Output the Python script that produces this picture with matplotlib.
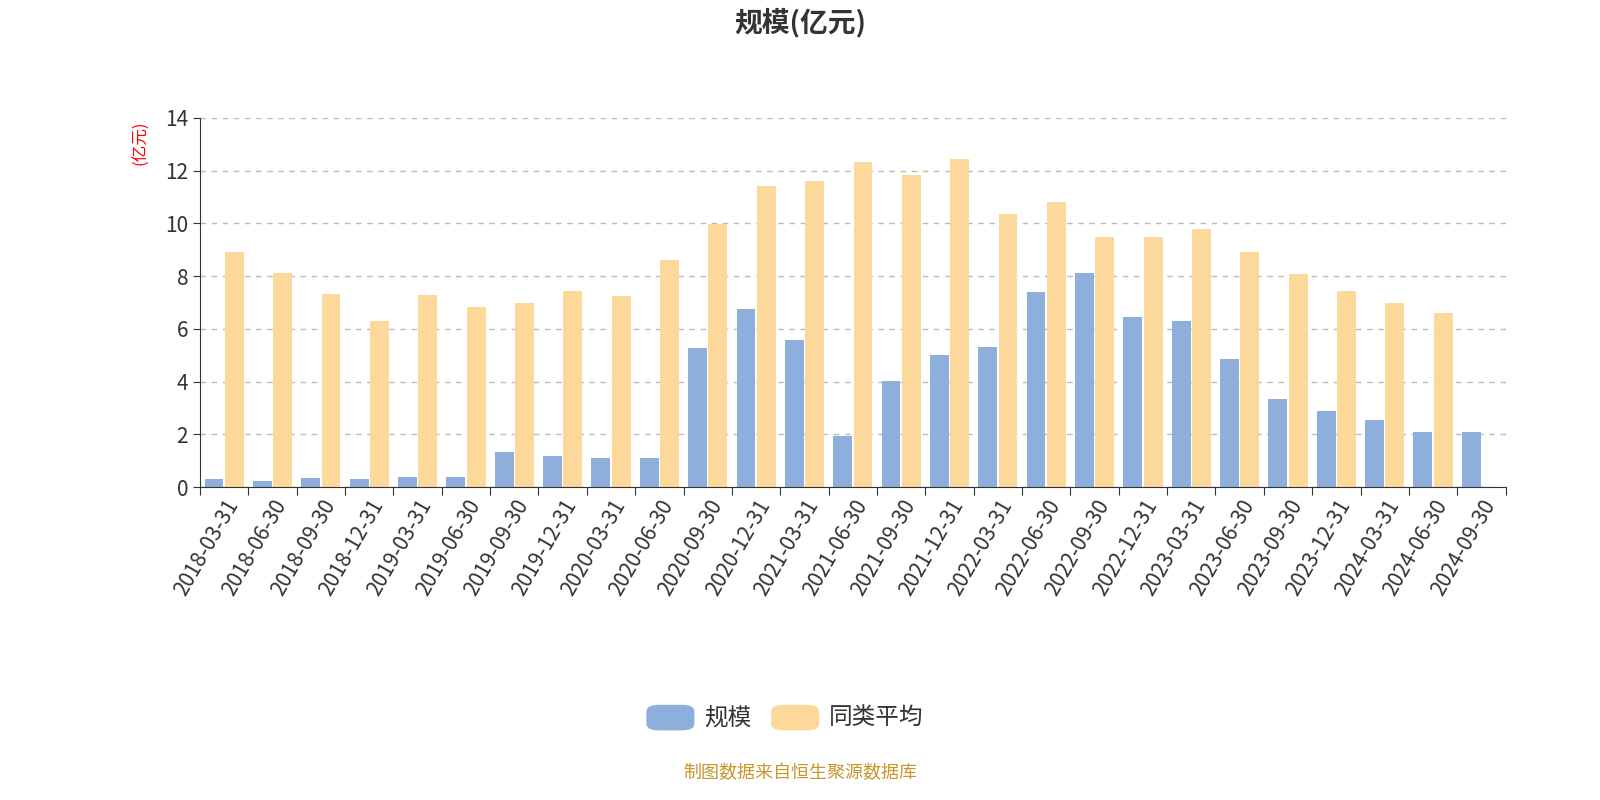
import matplotlib
matplotlib.use("Agg")
import matplotlib.pyplot as plt
from matplotlib import font_manager
import numpy as np
import glob
from matplotlib.patches import FancyBboxPatch

cjk = None
for f in glob.glob("/usr/share/fonts/**/*CJK*", recursive=True) + glob.glob("/usr/local/share/fonts/**/*CJK*", recursive=True):
    try:
        font_manager.fontManager.addfont(f)
    except Exception:
        pass
names = [f.name for f in font_manager.fontManager.ttflist]
for cand in ["Noto Sans CJK SC", "Noto Sans CJK JP", "Noto Sans SC", "WenQuanYi Zen Hei"]:
    if cand in names:
        cjk = cand
        break
if cjk is None:
    for n in names:
        if "CJK" in n:
            cjk = n
            break
plt.rcParams["font.family"] = "sans-serif"
plt.rcParams["font.sans-serif"] = ([cjk] if cjk else []) + ["DejaVu Sans"]

categories = ["2018-03-31","2018-06-30","2018-09-30","2018-12-31","2019-03-31","2019-06-30",
              "2019-09-30","2019-12-31","2020-03-31","2020-06-30","2020-09-30","2020-12-31",
              "2021-03-31","2021-06-30","2021-09-30","2021-12-31","2022-03-31","2022-06-30",
              "2022-09-30","2022-12-31","2023-03-31","2023-06-30","2023-09-30","2023-12-31",
              "2024-03-31","2024-06-30","2024-09-30"]
scale = [0.30,0.25,0.35,0.30,0.38,0.40,1.33,1.17,1.12,1.10,5.28,6.75,5.58,1.95,4.02,5.02,
         5.30,7.40,8.12,6.45,6.32,4.85,3.35,2.90,2.55,2.08,2.10]
peer_avg = [8.90,8.12,7.33,6.32,7.28,6.85,7.00,7.45,7.25,8.62,9.97,11.42,11.60,12.35,11.85,
            12.45,10.35,10.80,9.48,9.48,9.80,8.93,8.10,7.45,6.97,6.60,np.nan]

blue = "#8eaedc"
yellow = "#fdd89b"

fig = plt.figure(figsize=(16, 8), dpi=100)
ax = fig.add_axes([0.125, 0.391, 0.816, 0.4615])
x = np.arange(len(categories))
w = 0.39
ax.bar(x - 0.21, scale, w, color=blue)
ax.bar(x + 0.21, peer_avg, w, color=yellow)
ax.set_xlim(-0.5, len(categories) - 0.5)
ax.set_ylim(0, 14)
ax.set_yticks(np.arange(0, 15, 2))
ax.set_xticks(np.arange(-0.5, len(categories), 1))
ax.set_xticklabels([])
ax.set_xticks(x, minor=True)
ax.set_xticklabels(categories, minor=True, rotation=60, ha="right", rotation_mode="anchor",
                   fontsize=15, color="#333333")
ax.tick_params(axis="x", which="minor", length=0, pad=6)
ax.tick_params(axis="x", which="major", length=6, color="#333333")
ax.tick_params(axis="y", labelsize=15, colors="#333333", length=5)
ax.grid(axis="y", linestyle=(0, (4, 4)), color="#bbbbbb", linewidth=1)
ax.set_axisbelow(True)
for s in ["top", "right"]:
    ax.spines[s].set_visible(False)
ax.spines["left"].set_color("#333333")
ax.spines["bottom"].set_color("#333333")

fig.text(0.5, 0.972, "规模(亿元)", ha="center", va="center", fontsize=20, fontweight="bold", color="#333333")
fig.text(0.088, 0.822, "(亿元)", rotation=90, ha="center", va="center", fontsize=12, color="red")

for px, col, lab in [(0.404, blue, "规模"), (0.482, yellow, "同类平均")]:
    fig.patches.append(FancyBboxPatch((px, 0.087), 0.03, 0.032, boxstyle="round,pad=0,rounding_size=0.008",
                                      transform=fig.transFigure, facecolor=col, edgecolor="none"))
    fig.text(px + 0.036, 0.103, lab, ha="left", va="center", fontsize=17, color="#333333")

fig.text(0.5, 0.034, "制图数据来自恒生聚源数据库", ha="center", va="center", fontsize=13, color="#c8962a")

fig.savefig("out.png", dpi=100)
